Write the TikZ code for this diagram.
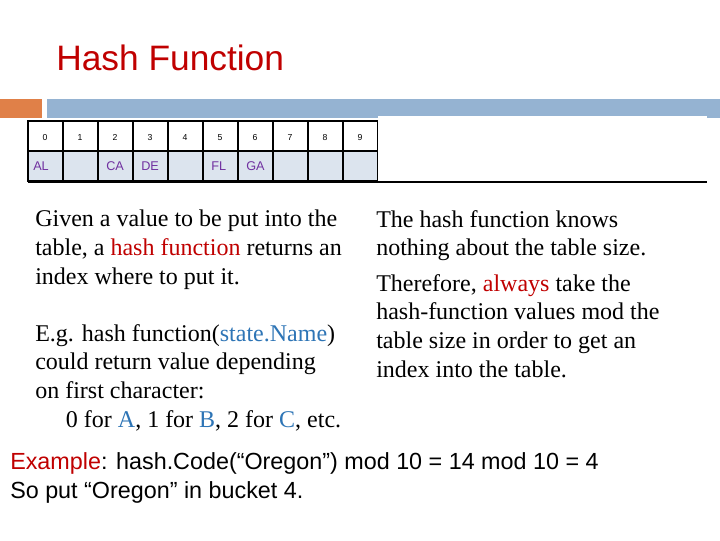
\documentclass[tikz,border=0pt]{standalone}
\usepackage{fontspec}
\setmainfont{Liberation Serif}
\newfontfamily\arial{Liberation Sans}
\definecolor{hred}{RGB}{192,0,0}
\definecolor{hblue}{RGB}{46,117,182}
\definecolor{cellfill}{RGB}{220,228,238}
\definecolor{barblue}{RGB}{149,179,210}
\definecolor{barorange}{RGB}{224,128,72}
\definecolor{purp}{RGB}{112,48,160}
\begin{document}
\begin{tikzpicture}[x=0.75pt,y=-0.75pt,
  body/.style={anchor=north west,align=left,font=\fontsize{18}{21.6}\selectfont,inner sep=0pt},
  idx/.style={font=\arial\fontsize{6.5}{8}\selectfont,anchor=base},
  val/.style={font=\arial\fontsize{9.5}{10}\selectfont,text=purp,anchor=base west,inner sep=0pt}]
\useasboundingbox (0,0) rectangle (720,540);
\fill[white] (0,0) rectangle (720,540);
\node[anchor=west,text=hred,font=\arial\fontsize{26.5}{30}\selectfont,inner sep=0pt] (title) at (56,58) {Hash Function};
\fill[barorange] (0,99) rectangle (42,118);
\fill[barblue] (47,99) rectangle (720,118);
% table
\foreach \i in {0,...,9}{
  \fill[cellfill] (28+35*\i,151) rectangle (63+35*\i,181);
  \draw[thick] (28+35*\i,121) rectangle (63+35*\i,181);
  \node[idx] (i\i) at (45+35*\i,140) {\i};
}
\draw[thick] (28,151) -- (378,151);
\fill[white] (378,116) rectangle (707,182);
\draw[thick] (28,182) -- (707,182);
\node[val] (v0) at (33,170) {AL};
\node[val] (v2) at (106,170) {CA};
\node[val] (v3) at (141,170) {DE};
\node[val] (v5) at (211,170) {FL};
\node[val] (v6) at (246,170) {GA};
\node[body] (t1) at (35,210) {Given a value to be put into the\\table, a \textcolor{hred}{hash function} returns an\\index where to put it.};
\node[body] (t2) at (35,324) {E.g. hash function(\textcolor{hblue}{state.Name})\\could return value depending\\on first character:\\\hspace*{23pt}0 for \textcolor{hblue}{A}, 1 for \textcolor{hblue}{B}, 2 for \textcolor{hblue}{C}, etc.};
\node[body] (t3) at (376,210) {The hash function knows\\nothing about the table size.};
\node[body] (t4) at (376,274) {Therefore, \textcolor{hred}{always} take the\\hash-function values mod the\\table size in order to get an\\index into the table.};
\node[body,font=\arial\fontsize{17.5}{21.75}\selectfont] (ex) at (10,452) {\textcolor{hred}{Example}: hash.Code(“Oregon”) mod 10 = 14 mod 10 = 4\\So put “Oregon” in bucket 4.};
\end{tikzpicture}
\end{document}
